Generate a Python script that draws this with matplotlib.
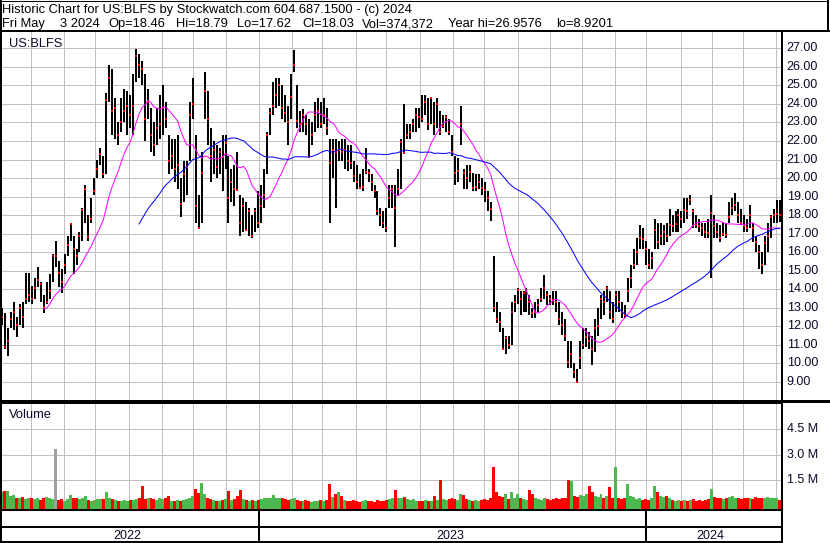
import matplotlib
matplotlib.use('Agg')
import matplotlib.pyplot as plt
import numpy as np
import pandas as pd

plt.rcParams['font.family'] = ['Liberation Sans', 'DejaVu Sans']

# ---------------- data (one bar = 2 trading days) ----------------
SYMBOL = 'US:BLFS'
START, END = '2022-05-03', '2024-05-03'

HIGH = [13.0, 12.7, 11.9, 12.8, 13.3, 12.5, 13.2, 13.3, 14.9, 14.9,
        14.2, 14.6, 15.2, 14.4, 13.7, 14.4, 14.8, 15.9, 16.6, 15.5,
        15.1, 15.9, 16.9, 17.6, 16.9, 16.2, 17.1, 18.4, 19.6, 18.0,
        18.9, 20.0, 21.0, 21.6, 21.2, 24.6, 26.1, 25.9, 24.3, 23.0,
        24.3, 24.8, 24.7, 24.5, 25.6, 26.95, 26.7, 26.3, 25.6, 24.8,
        23.8, 23.0, 23.8, 24.5, 25.0, 24.1, 22.3, 22.1, 22.1, 22.3,
        20.0, 20.9, 20.9, 24.1, 25.4, 22.3, 19.1, 21.4, 25.7, 24.7,
        22.7, 22.0, 21.8, 21.6, 22.3, 22.3, 21.2, 20.5, 20.7, 21.4,
        19.1, 18.9, 18.7, 18.4, 18.0, 18.4, 19.3, 19.6, 20.5, 22.5,
        23.8, 25.2, 25.4, 25.4, 25.0, 24.5, 23.9, 25.6, 26.9, 25.0,
        23.6, 23.7, 23.4, 23.2, 23.0, 24.1, 24.3, 24.1, 24.3, 23.8,
        22.1, 22.1, 22.1, 22.0, 22.1, 22.1, 21.8, 21.8, 20.9, 20.7,
        20.2, 20.5, 21.6, 20.5, 20.2, 19.6, 19.3, 18.4, 18.2, 18.4,
        19.6, 19.6, 19.6, 20.5, 22.1, 24.0, 22.9, 22.9, 23.2, 23.8,
        23.8, 24.5, 24.5, 24.3, 24.4, 24.1, 24.3, 23.6, 23.4, 23.4,
        23.2, 22.3, 21.2, 21.1, 23.9, 20.5, 20.7, 20.7, 20.3, 20.2,
        20.2, 20.0, 19.8, 19.3, 18.7, 15.8, 13.3, 12.8, 11.9, 11.5,
        11.5, 13.3, 13.7, 14.05, 13.9, 13.9, 14.05, 13.7, 13.0, 13.3,
        13.5, 14.05, 14.75, 13.9, 13.7, 13.9, 13.9, 13.3, 12.8, 12.4,
        11.2, 11.2, 10.0, 9.7, 11.2, 11.9, 11.9, 11.7, 11.5, 12.4,
        13.0, 13.7, 13.9, 14.2, 13.9, 13.3, 13.9, 13.9, 13.3, 13.15,
        14.6, 15.3, 16.2, 16.75, 17.45, 17.3, 16.6, 16.2, 16.0, 17.8,
        17.6, 17.6, 17.45, 17.6, 18.35, 18.0, 18.2, 18.35, 18.2, 18.9,
        18.9, 19.1, 18.35, 18.0, 17.8, 17.6, 17.6, 17.8, 19.1, 18.0,
        17.6, 17.45, 17.6, 17.6, 18.7, 18.9, 19.2, 18.7, 18.35, 18.0,
        17.8, 18.55, 17.6, 16.9, 16.4, 16.0, 16.9, 17.6, 18.0, 18.35,
        18.8, 18.79]

LOW = [12.1, 10.8, 10.4, 11.9, 11.8, 11.4, 12.1, 11.9, 13.2, 13.3,
       13.2, 13.5, 14.1, 13.3, 12.7, 13.2, 13.5, 14.4, 15.2, 14.1,
       13.8, 14.8, 15.8, 16.6, 14.8, 15.3, 16.0, 16.6, 17.6, 16.6,
       17.6, 19.1, 20.0, 20.7, 20.0, 20.2, 24.1, 22.3, 22.1, 21.8,
       22.5, 23.0, 22.3, 22.7, 22.3, 25.2, 25.4, 25.0, 22.0, 23.2,
       21.4, 21.2, 21.8, 22.1, 22.3, 22.7, 20.2, 20.5, 19.8, 19.4,
       17.9, 18.7, 19.1, 20.9, 23.2, 17.6, 17.3, 17.6, 23.2, 21.8,
       19.8, 20.2, 20.0, 20.2, 19.3, 20.5, 17.6, 18.7, 18.5, 19.3,
       16.9, 17.1, 17.2, 16.9, 16.75, 17.1, 17.3, 17.6, 18.4, 20.2,
       22.3, 23.4, 23.8, 23.9, 23.2, 23.0, 21.8, 23.2, 25.7, 22.7,
       22.5, 22.5, 22.3, 21.1, 21.8, 22.5, 22.7, 22.7, 22.9, 22.3,
       17.6, 20.0, 18.4, 20.9, 20.9, 20.5, 20.4, 20.5, 19.8, 19.4,
       19.4, 19.3, 20.2, 19.8, 19.3, 18.9, 18.0, 17.4, 17.3, 17.1,
       18.4, 18.4, 16.3, 19.1, 19.4, 21.3, 22.1, 22.1, 22.5, 22.5,
       22.7, 23.0, 23.4, 22.6, 22.9, 22.3, 22.7, 22.3, 22.7, 22.5,
       22.3, 21.2, 19.6, 19.8, 21.8, 19.4, 19.4, 19.8, 19.3, 19.3,
       19.4, 19.1, 18.7, 18.2, 17.7, 12.8, 12.2, 11.7, 10.8, 10.5,
       10.8, 11.0, 12.8, 13.2, 12.6, 12.8, 12.8, 12.6, 12.45, 12.45,
       12.8, 13.3, 13.5, 13.15, 13.15, 13.15, 12.8, 12.1, 11.55, 11.2,
       9.75, 9.75, 9.2, 8.95, 9.7, 10.8, 10.9, 10.8, 9.9, 10.6,
       11.5, 12.4, 12.6, 13.3, 12.4, 12.2, 12.8, 12.8, 12.45, 12.45,
       13.3, 14.05, 15.1, 15.3, 16.2, 16.2, 15.3, 15.1, 15.1, 16.2,
       16.2, 16.4, 16.4, 16.55, 16.9, 17.1, 17.1, 17.1, 17.3, 17.6,
       17.8, 18.55, 17.3, 17.3, 17.1, 16.9, 16.75, 16.75, 14.6, 16.75,
       16.75, 16.55, 16.9, 16.75, 17.6, 18.0, 18.2, 17.6, 17.45, 17.1,
       17.1, 17.3, 16.55, 16.0, 15.1, 14.85, 15.3, 16.0, 16.75, 17.6,
       17.6, 17.62]

CLOSE = [12.5, 10.9, 11.2, 12.4, 12.8, 12.1, 13.0, 12.5, 13.5, 13.7,
         13.5, 14.05, 14.5, 14.3, 13.05, 13.3, 13.9, 15.8, 15.8, 14.9,
         14.4, 15.3, 16.4, 17.5, 16.2, 15.8, 16.9, 18.3, 19.4, 16.8,
         17.8, 19.3, 20.5, 21.3, 20.2, 24.2, 25.4, 23.6, 23.8, 22.3,
         23.0, 23.6, 23.9, 23.4, 23.9, 26.6, 26.1, 25.9, 23.2, 24.1,
         22.3, 21.8, 22.7, 22.9, 23.8, 23.2, 20.9, 21.2, 20.5, 20.7,
         18.6, 20.2, 20.6, 23.4, 24.0, 18.5, 17.3, 20.3, 24.7, 23.2,
         21.2, 21.5, 20.6, 21.4, 21.15, 21.9, 18.9, 19.8, 19.4, 19.35,
         17.6, 18.5, 17.2, 18.2, 16.9, 18.2, 17.6, 18.5, 19.1, 22.3,
         23.5, 23.9, 24.5, 25.0, 23.8, 23.5, 23.0, 24.4, 26.1, 23.1,
         22.9, 23.4, 22.9, 21.15, 22.3, 23.4, 23.6, 22.9, 23.4, 22.7,
         20.8, 21.5, 21.4, 21.5, 21.4, 21.5, 20.9, 20.8, 20.1, 19.8,
         19.45, 19.5, 20.35, 20.3, 19.8, 19.3, 18.2, 18.0, 17.55, 17.3,
         18.9, 19.4, 18.4, 19.4, 21.95, 21.35, 22.3, 22.5, 22.9, 23.4,
         23.3, 23.2, 24.1, 22.9, 24.3, 22.9, 24.0, 22.5, 22.8, 23.3,
         22.5, 21.4, 20.3, 20.4, 22.9, 20.25, 20.0, 20.35, 19.45, 19.5,
         19.8, 19.45, 19.35, 18.9, 18.35, 13.0, 12.4, 12.25, 10.8, 11.35,
         11.0, 12.8, 13.3, 13.95, 13.5, 13.8, 13.9, 13.3, 12.7, 12.8,
         13.15, 13.5, 14.05, 13.7, 13.5, 13.4, 13.3, 12.4, 12.05, 11.5,
         10.1, 10.5, 9.55, 9.0, 10.3, 11.0, 11.45, 11.2, 10.8, 11.9,
         12.0, 13.5, 13.3, 14.05, 12.8, 12.4, 13.7, 13.3, 12.8, 12.6,
         13.9, 14.6, 15.3, 16.0, 16.75, 16.7, 16.2, 15.3, 15.7, 17.2,
         16.55, 16.9, 17.1, 16.9, 17.45, 17.4, 17.5, 18.0, 17.8, 18.3,
         18.25, 18.8, 18.2, 17.45, 17.4, 17.3, 17.1, 17.05, 18.1, 17.4,
         17.1, 16.75, 17.0, 16.95, 17.9, 18.4, 18.55, 18.0, 17.6, 17.4,
         17.3, 18.0, 17.3, 16.55, 16.0, 15.3, 16.5, 16.9, 17.9, 18.0,
         18.05, 18.03]

VOLUME_M = [0.85, 0.9, 0.9, 0.6, 0.65, 0.5, 0.45, 0.55, 0.4, 0.5,
            0.45, 0.4, 0.5, 0.35, 0.45, 0.55, 0.45, 0.4, 3.35, 0.35,
            0.4, 0.3, 0.4, 0.63, 0.45, 0.5, 0.4, 0.45, 0.58, 0.35,
            0.3, 0.35, 0.4, 0.44, 0.4, 0.8, 0.45, 0.4, 0.35, 0.3,
            0.3, 0.35, 0.3, 0.35, 0.35, 0.4, 0.45, 1.2, 0.4, 0.45,
            0.5, 0.4, 0.35, 0.45, 0.4, 0.5, 0.58, 0.3, 0.3, 0.35,
            0.3, 0.35, 0.4, 0.45, 0.6, 0.98, 0.75, 1.33, 0.7, 0.45,
            0.4, 0.35, 0.3, 0.3, 0.35, 0.4, 0.87, 0.35, 0.4, 0.6,
            0.96, 0.4, 0.35, 0.3, 0.35, 0.3, 0.35, 0.4, 0.45, 0.5,
            0.45, 0.63, 0.45, 0.5, 0.45, 0.4, 0.35, 0.4, 0.45, 0.35,
            0.3, 0.3, 0.35, 0.3, 0.25, 0.3, 0.3, 0.35, 0.3, 0.35,
            1.27, 0.55, 0.7, 0.83, 0.6, 0.35, 0.3, 0.3, 0.35, 0.3,
            0.25, 0.3, 0.35, 0.3, 0.3, 0.25, 0.35, 0.3, 0.3, 0.35,
            0.4, 0.45, 0.92, 0.5, 0.45, 0.55, 0.4, 0.35, 0.4, 0.3,
            0.3, 0.3, 0.35, 0.3, 0.3, 0.6, 0.35, 1.5, 0.4, 0.35,
            0.4, 0.45, 0.4, 0.35, 0.7, 0.65, 0.4, 0.35, 0.3, 0.35,
            0.3, 0.35, 0.4, 0.35, 0.45, 2.3, 0.8, 0.6, 0.55, 0.7,
            0.4, 0.8, 0.5, 0.7, 0.45, 0.4, 0.35, 0.97, 0.7, 0.45,
            0.4, 0.35, 0.45, 0.4, 0.35, 0.4, 0.45, 0.4, 0.5, 0.45,
            1.5, 1.45, 0.6, 0.55, 0.65, 0.6, 0.7, 1.2, 0.8, 0.6,
            0.55, 0.7, 0.5, 0.6, 1.1, 0.5, 2.3, 0.45, 0.4, 0.45,
            1.3, 0.6, 0.55, 0.4, 0.45, 0.35, 0.4, 0.35, 0.5, 1.15,
            0.8, 0.6, 0.55, 0.6, 0.45, 0.35, 0.3, 0.35, 0.3, 0.35,
            0.3, 0.35, 0.4, 0.3, 0.35, 0.3, 0.35, 0.4, 1.0, 0.55,
            0.45, 0.5, 0.4, 0.45, 0.55, 0.6, 0.5, 0.45, 0.4, 0.45,
            0.5, 0.45, 0.4, 0.55, 0.5, 0.45, 0.5, 0.55, 0.45, 0.5,
            0.45, 0.374]

PRICE_TICKS = list(range(9, 28))
VOL_TICKS = [1.5, 3.0, 4.5]
MA_FAST, MA_SLOW = 15, 47          # in 2-day bars (~30 and ~94 sessions)

TITLE = 'Historic Chart for %s by Stockwatch.com 604.687.1500 - (c) 2024' % SYMBOL
LAST_DAY = ['Fri May', '3 2024']
LAST_OPEN, LAST_HIGH, LAST_LOW, LAST_CLOSE, LAST_VOL = 18.46, 18.79, 17.62, 18.03, 374372
YEAR_HI, YEAR_LO = 26.9576, 8.9201

# ---------------- derived ----------------
days = pd.bdate_range(START, END)
pos = np.arange(len(days))[::-1][::2][::-1]
pos = pos[-len(CLOSE):]
close_s = pd.Series(CLOSE)
ma_fast = close_s.rolling(MA_FAST).mean()
ma_slow = close_s.rolling(MA_SLOW).mean()
chg = np.diff(np.r_[CLOSE[0] - 0.01, CLOSE])
GREEN, RED, GREY = '#4db84d', '#ff0000', '#a0a0a0'
vol_colors = [GREEN if c > 0 else (RED if c < 0 else GREY) for c in chg]

month_start = [i for i in range(1, len(days)) if days[i].month != days[i - 1].month]
year_start = [i for i in month_start if days[i].month == 1]

# ---------------- figure ----------------
W, H = 830, 543
fig = plt.figure(figsize=(W / 100, H / 100), dpi=100)
fig.patch.set_facecolor('white')

def frac(x0, y0, x1, y1):
    return [x0 / W, 1 - y1 / H, (x1 - x0) / W, (y1 - y0) / H]

GRID = '#c0c0c0'
XL = (1.0, 523.8)
PX = 0.72  # points per pixel
FS = 9.0
FS_HDR = 9.3
FS_LBL = 9.3
TXT = '#0a0a28'

ax_p = fig.add_axes(frac(2, 32, 781, 400.5))
ax_v = fig.add_axes(frac(2, 402.5, 781, 509))
ax_d = fig.add_axes(frac(2, 510, 781, 541.5))
for a in (ax_p, ax_v, ax_d):
    a.set_xlim(*XL)
    a.set_xticks([]); a.set_yticks([])
    for s in a.spines.values():
        s.set_visible(False)

# price panel
ax_p.set_ylim(8.0, 27.88)
for p in PRICE_TICKS:
    ax_p.axhline(p, color=GRID, lw=PX, zorder=0)
for m in month_start:
    ax_p.axvline(m - 0.5, color=GRID, lw=PX, zorder=0)
ax_p.vlines(pos, LOW, HIGH, color='black', lw=2 * PX, antialiased=False, zorder=2)
ax_p.plot(pos, CLOSE, ls='none', marker='s', ms=1.5, mew=0, color='#ff0000', zorder=3)
ax_p.plot(pos, ma_fast, color='#ff00ff', lw=PX, zorder=4)
ax_p.plot(pos, ma_slow, color='#0000ff', lw=PX, zorder=4)
lab_x = (786.7 - 781) / 779 + 1.0
for p in PRICE_TICKS:
    ax_p.text(lab_x, p, f'{p:.2f}', transform=ax_p.get_yaxis_transform(),
              ha='left', va='center', fontsize=FS, color=TXT, clip_on=False)
ax_p.text(7.3 / 779, 1 - (46.7 - 32) / 368.5, SYMBOL, transform=ax_p.transAxes,
          ha='left', va='baseline', fontsize=FS_LBL, color=TXT)

# volume panel
VOL_FLOOR = -0.175
ax_v.set_ylim(VOL_FLOOR, 6.08)
for v in VOL_TICKS:
    ax_v.axhline(v, color=GRID, lw=PX, zorder=0)
for m in month_start:
    ax_v.axvline(m - 0.5, color=GRID, lw=PX, zorder=0)
ax_v.bar(pos, np.array(VOLUME_M) - VOL_FLOOR, bottom=VOL_FLOOR, width=2.0,
         color=vol_colors, linewidth=0, antialiased=False, zorder=2)
for v in VOL_TICKS:
    ax_v.text(lab_x, v, f'{v:.1f} M', transform=ax_v.get_yaxis_transform(),
              ha='left', va='center', fontsize=FS, color=TXT, clip_on=False)
ax_v.text(7.3 / 779, 1 - (418 - 402.5) / 106.5, 'Volume', transform=ax_v.transAxes,
          ha='left', va='baseline', fontsize=FS_LBL, color=TXT)

# date band
ax_d.set_ylim(0, 1)
bounds = [XL[0]] + [y - 0.5 for y in year_start] + [XL[1]]
for b in bounds[1:-1]:
    ax_d.axvline(b, color='black', lw=2 * PX)
for k in range(len(bounds) - 1):
    yr = days[min(int(bounds[k] + 1), len(days) - 1)].year
    ax_d.text((bounds[k] + bounds[k + 1]) / 2 - 2, 0.07, str(yr), ha='center',
              va='baseline', fontsize=FS, color=TXT)

# overlay: borders and header
ov = fig.add_axes([0, 0, 1, 1], zorder=10)
ov.set_xlim(0, W); ov.set_ylim(H, 0); ov.axis('off'); ov.patch.set_alpha(0)
def seg(x0, y0, x1, y1, px):
    ov.plot([x0, x1], [y0, y1], color='black', lw=px * PX, solid_capstyle='butt',
            antialiased=False)
seg(1, 0, 1, H, 2)              # left
seg(0, 0.5, 828, 0.5, 1)        # top of header box
seg(827.5, 0, 827.5, 31, 2)     # right of header box
seg(0, 31.3, W, 31.3, 2)        # header bottom
seg(781.8, 31, 781.8, H, 2)     # right of plots
seg(0, 400.8, W, 400.8, 1.3)    # price / volume separator
seg(0, 403.0, 781, 403.0, 1)
seg(0, 509.8, 781, 509.8, 2)
seg(0, 526.5, 781, 526.5, 2)
seg(0, 541.8, 781, 541.8, 2)

ov.text(1.7, 12.7, TITLE, fontsize=FS_HDR, va='baseline', ha='left')
hdr = [(1.7, LAST_DAY[0]), (59.5, LAST_DAY[1]),
       (108.3, f'Op={LAST_OPEN:.2f}'), (175.7, f'Hi={LAST_HIGH:.2f}'),
       (236.7, f'Lo={LAST_LOW:.2f}'), (302.7, f'Cl={LAST_CLOSE:.2f}'),
       (362.3, f'Vol={LAST_VOL:,}'), (447.7, f'Year hi={YEAR_HI:.4f}'),
       (556, f'lo={YEAR_LO:.4f}')]
for x, s in hdr:
    ov.text(x, 27.3, s, fontsize=FS_HDR, va='baseline', ha='left')

fig.savefig('out.png', dpi=100)
